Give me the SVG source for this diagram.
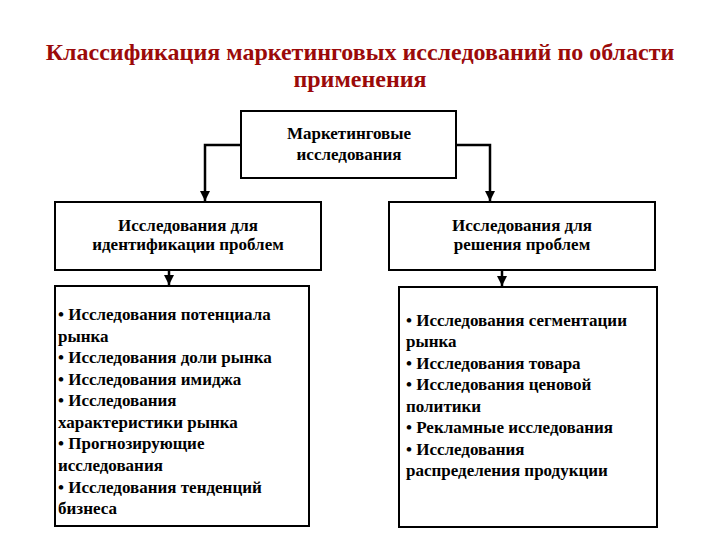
<svg xmlns="http://www.w3.org/2000/svg" width="720" height="540" viewBox="0 0 720 540">
<style>
.title{font-family:'Liberation Serif','DejaVu Serif','Times New Roman',serif;font-weight:bold;font-size:24px;fill:#9b0a0a;text-anchor:middle}
.box{fill:#ffffff;stroke:#000000;stroke-width:2}
.t{font-family:'Liberation Serif','DejaVu Serif','Times New Roman',serif;font-weight:bold;font-size:17px;fill:#000000}
.c{text-anchor:middle}
.conn{fill:none;stroke:#000000;stroke-width:2.5}
</style>
<defs>
<marker id="arr" viewBox="0 0 10 10" refX="10" refY="5" markerWidth="4" markerHeight="4" orient="auto" markerUnits="strokeWidth">
<path d="M0,0 L10,5 L0,10 z" fill="#000000"/>
</marker>
</defs>
<rect width="720" height="540" fill="#ffffff"/>
<g id="title">
<text class="title" x="360" y="60">Классификация маркетинговых исследований по области</text>
<text class="title" x="360" y="87">применения</text>
</g>
<g id="connectors">
<path class="conn" d="M241,145 H205 V201" marker-end="url(#arr)"/>
<path class="conn" d="M456,145 H490 V201" marker-end="url(#arr)"/>
<path class="conn" d="M169,270 V285" marker-end="url(#arr)"/>
<path class="conn" d="M502,270 V286" marker-end="url(#arr)"/>
</g>
<g id="root">
<rect class="box" x="241" y="111" width="215" height="67"/>
<text class="t c" x="349" y="139">Маркетинговые</text>
<text class="t c" x="349" y="160">исследования</text>
</g>
<g id="ident">
<rect class="box" x="55" y="202" width="266" height="68"/>
<text class="t c" x="188" y="231">Исследования для</text>
<text class="t c" x="188" y="250">идентификации проблем</text>
</g>
<g id="solve">
<rect class="box" x="389" y="202" width="266" height="68"/>
<text class="t c" x="522" y="231">Исследования для</text>
<text class="t c" x="522" y="250">решения проблем</text>
</g>
<g id="ident-list">
<rect class="box" x="55" y="286" width="254" height="240"/>
<text class="t">
<tspan x="58" y="320">• Исследования потенциала</tspan>
<tspan x="58" y="342">рынка</tspan>
<tspan x="58" y="363">• Исследования доли рынка</tspan>
<tspan x="58" y="385">• Исследования имиджа</tspan>
<tspan x="58" y="406">• Исследования</tspan>
<tspan x="58" y="428">характеристики рынка</tspan>
<tspan x="58" y="449">• Прогнозирующие</tspan>
<tspan x="58" y="471">исследования</tspan>
<tspan x="58" y="493">• Исследования тенденций</tspan>
<tspan x="58" y="514">бизнеса</tspan>
</text>
</g>
<g id="solve-list">
<rect class="box" x="399" y="287" width="258" height="240"/>
<text class="t">
<tspan x="406" y="326">• Исследования сегментации</tspan>
<tspan x="406" y="347">рынка</tspan>
<tspan x="406" y="369">• Исследования товара</tspan>
<tspan x="406" y="390">• Исследования ценовой</tspan>
<tspan x="406" y="412">политики</tspan>
<tspan x="406" y="433">• Рекламные исследования</tspan>
<tspan x="406" y="455">• Исследования</tspan>
<tspan x="406" y="476">распределения продукции</tspan>
</text>
</g>
</svg>
